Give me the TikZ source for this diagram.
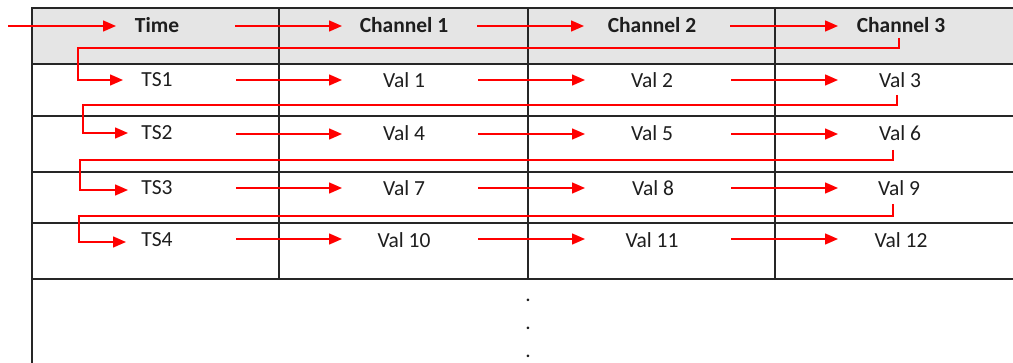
\documentclass[tikz,border=0pt]{standalone}
\usepackage{fontspec}
\setmainfont{Carlito}
\usetikzlibrary{arrows.meta}
\definecolor{hdr}{RGB}{229,229,229}
\definecolor{txt}{RGB}{30,30,30}
\tikzset{
  grid/.style={draw=black!85, line width=1.6pt},
  arr/.style={draw=red, line width=1.5pt, -{Triangle[length=13pt,width=11pt]}},
  ret/.style={draw=red, line width=1.5pt, -{Triangle[length=13pt,width=11pt]}},
  lbl/.style={text=txt, font=\fontsize{21.5}{24}\selectfont, inner sep=0pt},
  hlbl/.style={lbl, font=\fontsize{21.5}{24}\selectfont\bfseries},
}
\begin{document}
\begin{tikzpicture}[x=1pt,y=-1pt]
\useasboundingbox (0,0) rectangle (1013,363);
% header background
\fill[hdr] (32,8) rectangle (1013,64);
% table lines
\draw[grid] (1013,8) -- (32,8) -- (32,363);
\foreach \yy in {64,116,172,223,279} \draw[grid] (32,\yy) -- (1013,\yy);
\foreach \xx in {279,528,775} \draw[grid] (\xx,8) -- (\xx,279);

% texts
\node[hlbl] (time) at (157,25) {Time};
\node[hlbl] (ch1) at (404,25) {Channel 1};
\node[hlbl] (ch2) at (652,25) {Channel 2};
\node[hlbl] (ch3) at (901,25) {Channel 3};
\node[lbl] (ts1) at (157,80) {TS1};
\node[lbl] (v1) at (404,80) {Val 1};
\node[lbl] (v2) at (652,80) {Val 2};
\node[lbl] (v3) at (900,80) {Val 3};
\node[lbl] (ts2) at (157,133) {TS2};
\node[lbl] (v4) at (404,133) {Val 4};
\node[lbl] (v5) at (652,133) {Val 5};
\node[lbl] (v6) at (900,133) {Val 6};
\node[lbl] (ts3) at (157,188) {TS3};
\node[lbl] (v7) at (404,188) {Val 7};
\node[lbl] (v8) at (653,188) {Val 8};
\node[lbl] (v9) at (899,188) {Val 9};
\node[lbl] (ts4) at (157,240) {TS4};
\node[lbl] (v10) at (404,240) {Val 10};
\node[lbl] (v11) at (652,240) {Val 11};
\node[lbl] (v12) at (901,240) {Val 12};
\node[lbl, anchor=base] (d1) at (528,302) {.};
\node[lbl, anchor=base] (d2) at (528,330) {.};
\node[lbl, anchor=base] (d3) at (528,358) {.};

% arrow coordinates: header row
\coordinate (e0) at (8,26);   \coordinate (e1) at (116,26);
\coordinate (h0s) at (235,26); \coordinate (h0e) at (342,26);
\coordinate (h1s) at (477,26); \coordinate (h1e) at (584,26);
\coordinate (h2s) at (730,26); \coordinate (h2e) at (838,26);
\draw[arr] (e0) -- (e1);
\draw[arr] (h0s) -- (h0e);
\draw[arr] (h1s) -- (h1e);
\draw[arr] (h2s) -- (h2e);

% value rows
\foreach \r/\yy in {1/80,2/134,3/188,4/239}{
  \coordinate (a\r s) at (236,\yy); \coordinate (a\r e) at (342,\yy);
  \coordinate (b\r s) at (478,\yy); \coordinate (b\r e) at (585,\yy);
  \coordinate (c\r s) at (731,\yy); \coordinate (c\r e) at (838,\yy);
  \draw[arr] (a\r s) -- (a\r e);
  \draw[arr] (b\r s) -- (b\r e);
  \draw[arr] (c\r s) -- (c\r e);
}

% return connectors
\coordinate (r1s) at (899,38);  \coordinate (r1e) at (123,80);
\coordinate (r2s) at (897,95);  \coordinate (r2e) at (128,133);
\coordinate (r3s) at (893,150); \coordinate (r3e) at (128,190);
\coordinate (r4s) at (893,204); \coordinate (r4e) at (126,242);
\draw[ret] (r1s) -- (899,48) -- (78,48) -- (78,80) -- (r1e);
\draw[ret] (r2s) -- (897,105) -- (83,105) -- (83,133) -- (r2e);
\draw[ret] (r3s) -- (893,160) -- (80,160) -- (80,190) -- (r3e);
\draw[ret] (r4s) -- (893,216) -- (79,216) -- (79,242) -- (r4e);
\end{tikzpicture}
\end{document}
